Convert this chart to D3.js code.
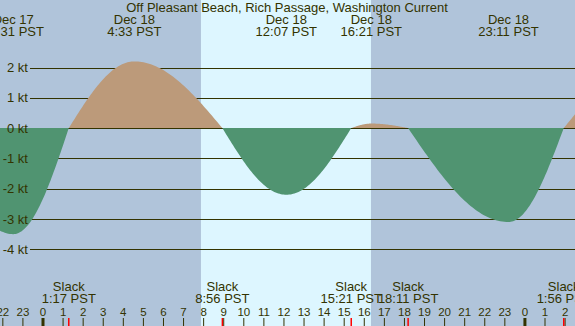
<!DOCTYPE html>
<html>
<head>
<meta charset="utf-8">
<script src="https://cdn.jsdelivr.net/npm/d3@7"></script>
<style>
  body { margin: 0; }
  svg { display: block; font-family: "Liberation Sans", Arial, sans-serif; }
</style>
</head>
<body>
<svg id="chart" width="575" height="326"></svg>
<script>
const title = 'Off Pleasant Beach, Rich Passage, Washington Current'

// tide current events (day of December, local time PST, speed in knots; 0 = slack)
const eventDays = [17, 17, 18, 18, 18, 18, 18, 18, 18, 18, 19, 19]
const eventTimes = ['18:30', '22:31', '1:17', '4:33', '8:56', '12:07', '15:21', '16:21', '18:11', '23:11', '1:56', '5:00']
const eventSpeeds = [0, -3.5, 0, 2.2, 0, -2.2, 0, 0.15, 0, -3.1, 0, 1.6]

const sunrise = '7:52'
const sunset = '16:20'

const speedTicks = [2, 1, 0, -1, -2, -3, -4]
const hourTicks = d3.range(-2, 27)

const width = 575
const height = 326
const colors = {
  night: '#b0c4da',
  day: '#ddf6ff',
  flood: '#bc9a7a',
  ebb: '#509471',
  text: '#333300',
  slack: '#ff0000',
}

function toHours(day, time) {
  const [h, m] = time.split(':').map(Number)
  return (day - 18) * 24 + h + m / 60
}

const events = eventTimes.map((t, i) => ({
  day: eventDays[i],
  time: t,
  hours: toHours(eventDays[i], t),
  speed: eventSpeeds[i],
}))

const x = d3.scaleLinear().domain([-43 / 20.08, (width - 43) / 20.08]).range([0, width])
const y = d3.scaleLinear().domain([-4, 2]).range([249.3, 67.5])
const zeroY = y(0)

// quarter-sine segments between slack and extreme, as on tide current charts
function curveTidal(zy) {
  return function (context) {
    return {
      areaStart() { this._line = 0 },
      areaEnd() { this._line = NaN },
      lineStart() { this._point = 0 },
      lineEnd() {
        if (this._line || (this._line !== 0 && this._point === 1)) context.closePath()
        this._line = 1 - this._line
      },
      point(px, py) {
        px = +px; py = +py
        if (this._point === 0) {
          this._point = 1
          this._line ? context.lineTo(px, py) : context.moveTo(px, py)
        } else {
          const x0 = this._x, y0 = this._y
          const s0 = Math.abs(y0 - zy) < 1e-6
          const s1 = Math.abs(py - zy) < 1e-6
          for (let k = 1; k <= 48; k++) {
            const t = k / 48
            let f
            if (s0 && s1) f = t
            else if (s0) f = Math.sin(t * Math.PI / 2)
            else if (s1) f = 1 - Math.cos(t * Math.PI / 2)
            else f = (1 - Math.cos(Math.PI * t)) / 2
            context.lineTo(x0 + (px - x0) * t, y0 + (py - y0) * f)
          }
        }
        this._x = px; this._y = py
      },
    }
  }
}

const svg = d3.select('#chart')

// background night / day
svg.append('rect').attr('width', width).attr('height', height).attr('fill', colors.night)
svg.append('rect')
  .attr('x', x(toHours(18, sunrise)))
  .attr('y', 0)
  .attr('width', x(toHours(18, sunset)) - x(toHours(18, sunrise)))
  .attr('height', height)
  .attr('fill', colors.day)

// grid lines
svg.append('g')
  .selectAll('line')
  .data(speedTicks)
  .join('line')
  .attr('x1', 30)
  .attr('x2', width)
  .attr('y1', d => Math.round(y(d)) + 0.5)
  .attr('y2', d => Math.round(y(d)) + 0.5)
  .attr('stroke', colors.text)
  .attr('stroke-width', 1.2)

// current area, flood above zero and ebb below
const defs = svg.append('defs')
defs.append('clipPath').attr('id', 'clip-flood')
  .append('rect').attr('x', 0).attr('y', 0).attr('width', width).attr('height', zeroY)
defs.append('clipPath').attr('id', 'clip-ebb')
  .append('rect').attr('x', 0).attr('y', zeroY).attr('width', width).attr('height', height - zeroY)

const area = d3.area()
  .x(d => x(d.hours))
  .y0(zeroY)
  .y1(d => y(d.speed))
  .curve(curveTidal(zeroY))

svg.append('path')
  .datum(events)
  .attr('d', area)
  .attr('fill', colors.flood)
  .attr('clip-path', 'url(#clip-flood)')

svg.append('path')
  .datum(events)
  .attr('d', area)
  .attr('fill', colors.ebb)
  .attr('clip-path', 'url(#clip-ebb)')

// speed labels on top of the fill
svg.append('g')
  .selectAll('text')
  .data(speedTicks)
  .join('text')
  .attr('x', 28)
  .attr('y', d => y(d) + 4.5)
  .attr('text-anchor', 'end')
  .attr('font-size', 13)
  .attr('fill', colors.text)
  .text(d => `${d} kt`)

// title
svg.append('text')
  .attr('x', 287)
  .attr('y', 12)
  .attr('text-anchor', 'middle')
  .attr('font-size', 13)
  .attr('fill', colors.text)
  .text(title)

const [h0, h1] = x.domain()
const inView = events.filter(e => e.hours > h0 - 1 && e.hours < h1 + 1)

// extreme labels at the top
const extremes = inView.filter(e => e.speed !== 0)
const topLabels = svg.append('g')
  .selectAll('text')
  .data(extremes)
  .join('text')
  .attr('text-anchor', 'middle')
  .attr('font-size', 13)
  .attr('fill', colors.text)
topLabels.append('tspan').attr('x', d => x(d.hours)).attr('y', 24).text(d => `Dec ${d.day}`)
topLabels.append('tspan').attr('x', d => x(d.hours)).attr('y', 36).text(d => `${d.time} PST`)

// slack labels at the bottom
const slacks = inView.filter(e => e.speed === 0)
const slackLabels = svg.append('g')
  .selectAll('text')
  .data(slacks)
  .join('text')
  .attr('text-anchor', 'middle')
  .attr('font-size', 13)
  .attr('fill', colors.text)
slackLabels.append('tspan').attr('x', d => x(d.hours)).attr('y', 291).text('Slack')
slackLabels.append('tspan').attr('x', d => x(d.hours)).attr('y', 303).text(d => `${d.time} PST`)

// hour ticks
const hourAxis = svg.append('g')
hourAxis.selectAll('text')
  .data(hourTicks)
  .join('text')
  .attr('x', d => x(d))
  .attr('y', 316)
  .attr('text-anchor', 'middle')
  .attr('font-size', 11.5)
  .attr('fill', colors.text)
  .text(d => ((d % 24) + 24) % 24)
hourAxis.selectAll('line')
  .data(hourTicks)
  .join('line')
  .attr('x1', d => x(d))
  .attr('x2', d => x(d))
  .attr('y1', 318)
  .attr('y2', height)
  .attr('stroke', colors.text)
  .attr('stroke-width', d => (d % 24 === 0 ? 3 : 1))

svg.append('g')
  .selectAll('line')
  .data(slacks)
  .join('line')
  .attr('x1', d => x(d.hours))
  .attr('x2', d => x(d.hours))
  .attr('y1', 318)
  .attr('y2', height)
  .attr('stroke', colors.slack)
  .attr('stroke-width', 1.5)
</script>
</body>
</html>
